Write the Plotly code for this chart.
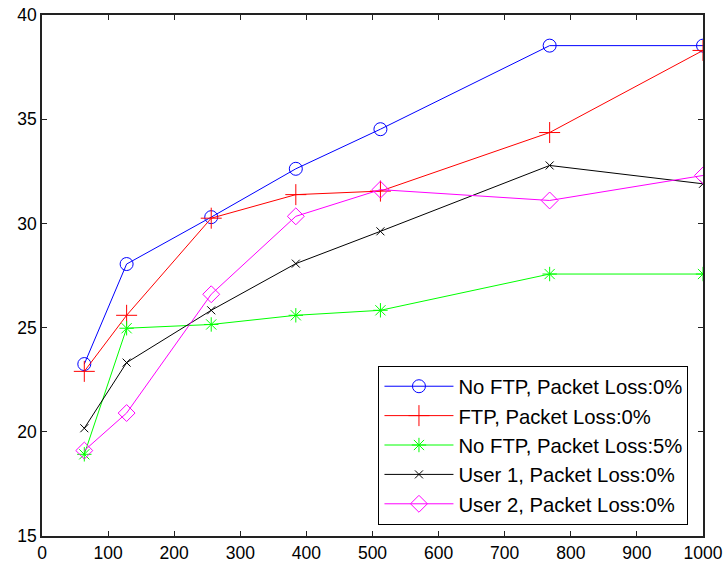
import plotly.graph_objects as go

# Packet sizes on the x axis
x_vals = [64, 128, 256, 384, 512, 768, 1000]

no_ftp_0 = [23.25, 28.05, 30.3, 32.62, 34.52, 38.53, 38.53]
ftp_0 = [22.9, 25.59, 30.25, 31.38, 31.55, 34.36, 38.3]
no_ftp_5 = [18.92, 24.97, 25.15, 25.59, 25.83, 27.57, 27.57]
user1_0 = [20.17, 23.32, 25.83, 28.07, 29.62, 32.78, 31.9]
user2_0 = [19.1, 20.9, 26.6, 30.34, 31.62, 31.1, 32.3]

series_names = [
    "No FTP, Packet Loss:0%",
    "FTP, Packet Loss:0%",
    "No FTP, Packet Loss:5%",
    "User 1, Packet Loss:0%",
    "User 2, Packet Loss:0%",
]
series_values = [no_ftp_0, ftp_0, no_ftp_5, user1_0, user2_0]
series_colors = ["#0000ff", "#ff0000", "#00ff00", "#000000", "#ff00ff"]
series_symbols = ["circle-open", "cross-thin-open", "asterisk-open", "x-thin-open", "diamond-open"]
series_sizes = [13, 15, 12, 8, 13]

x_ticks = [0, 100, 200, 300, 400, 500, 600, 700, 800, 900, 1000]
y_ticks = [15, 20, 25, 30, 35, 40]

FONT = "Arial, Liberation Sans, Helvetica, sans-serif"

fig = go.Figure()
for name, vals, col, sym, sz in zip(
    series_names, series_values, series_colors, series_symbols, series_sizes
):
    fig.add_trace(
        go.Scatter(
            x=x_vals,
            y=vals,
            name=name,
            mode="lines+markers",
            line=dict(color=col, width=1),
            marker=dict(symbol=sym, size=sz, color=col, line=dict(color=col, width=1)),
        )
    )

axis_common = dict(
    showgrid=False,
    zeroline=False,
    showline=True,
    linecolor="#222222",
    linewidth=1.6,
    mirror="ticks",
    ticks="inside",
    ticklen=5,
    tickcolor="#222222",
    automargin=False,
    tickfont=dict(family=FONT, size=17.5, color="#000000"),
)

fig.update_layout(
    width=725,
    height=567,
    margin=dict(l=42, r=22, t=15, b=31),
    paper_bgcolor="white",
    plot_bgcolor="white",
    xaxis=dict(range=[0, 1000], tickvals=x_ticks, **axis_common),
    yaxis=dict(range=[15, 40], tickvals=y_ticks, **axis_common),
    legend=dict(
        x=0.978,
        y=0.022,
        xanchor="right",
        yanchor="bottom",
        bgcolor="white",
        bordercolor="#000000",
        borderwidth=1,
        font=dict(family=FONT, size=20.3, color="#000000"),
        itemwidth=69,
    ),
    showlegend=True,
)

fig.write_html("out.html")
